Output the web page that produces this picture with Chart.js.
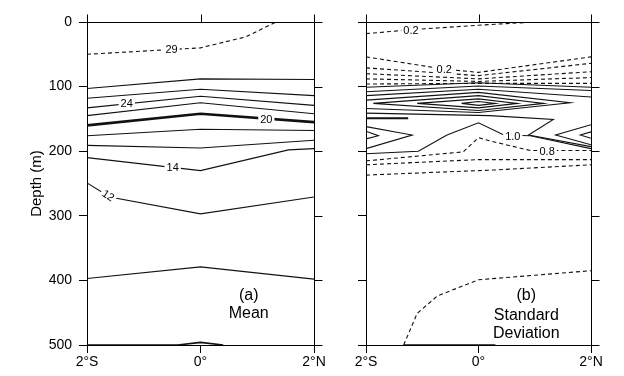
<!DOCTYPE html>
<html>
<head>
<meta charset="utf-8">
<script src="https://cdn.jsdelivr.net/npm/chart.js@4/dist/chart.umd.min.js"></script>
<style>
  html, body { margin: 0; padding: 0; background: #fff; }
  #wrap { position: relative; width: 624px; height: 376px; }
  canvas { position: absolute; top: 0; }
  #mean { left: 0; }
  #std { left: 330px; }
</style>
</head>
<body>
<div id="wrap">
  <canvas id="mean" width="330" height="376"></canvas>
  <canvas id="std" width="294" height="376"></canvas>
</div>
<script>
const lonTicks = [-2, 0, 2];
const lonLabels = ["2°S", "0°", "2°N"];
const depthTicks = [0, 100, 200, 300, 400, 500];

// (a) mean temperature contours, points are [longitude, depth in m]
const mean29 = [[-2, 50], [0, 40], [0.8, 23], [1.33, 0]];
const mean28 = [[-2, 103], [0, 88], [2, 89]];
const mean26 = [[-2, 118], [0, 104], [2, 114]];
const mean24 = [[-2, 133], [0, 115], [2, 129]];
const mean22 = [[-2, 145], [0, 125], [2, 142]];
const mean20 = [[-2, 160], [0, 142], [2, 155]];
const mean18 = [[-2, 176], [0, 166], [2, 168]];
const mean16 = [[-2, 191], [0, 195], [2, 183]];
const mean14 = [[-2, 210], [0, 230], [1.55, 198], [2, 196]];
const mean12 = [[-2, 249], [-1.6, 271], [0, 297], [2, 271]];
const mean10 = [[-2, 397], [0, 379], [2, 398]];
const mean8 = [[-2, 500], [-0.4, 500], [0, 496], [0.4, 500]];

const meanLabelText = ["29", "24", "20", "14", "12"];
const meanLabelLon = [-0.51, -1.3, 1.16, -0.49, -1.62];
const meanLabelDepth = [42, 126, 150, 224, 268];
const meanLabelAngle = [0, 0, 0, 0, 33];

// (b) standard deviation contours
const std02a = [[-2, 18], [-1.2, 12], [0, 5], [1.0, 0]];
const std02b = [[-2, 54], [-0.6, 73], [0, 78], [2, 54]];
const std04 = [[-2, 71], [0, 83], [2, 64]];
const std06 = [[-2, 80], [0, 88], [2, 77]];
const std08a = [[-2, 88], [0, 92], [2, 86]];
const std09 = [[-2, 96], [0, 95], [2, 95]];
const std12 = [[-2, 101], [0, 94], [2, 101]];
const std14 = [[-2, 108], [0, 99], [2, 106]];
const std16 = [[-2, 114], [0, 104], [2, 116]];
const std18 = [[-2, 121], [0, 109], [1.63, 125], [0, 140], [-2, 134]];
const std20 = [[-1.87, 126], [0, 114], [1.16, 126], [0, 137], [-1.87, 126]];
const std22 = [[-1.09, 126], [0, 119], [0.69, 126], [0, 133], [-1.09, 126]];
const std24 = [[-0.3, 126], [0, 123], [0.3, 126], [0, 129], [-0.3, 126]];
const std11 = [[-2, 141], [0.2, 145], [1.33, 151], [0.89, 175], [2, 193]];
const std13 = [[-2, 149], [-1.25, 149]];
const std10 = [[-2, 204], [-1.07, 200], [-0.56, 175], [0, 156], [0.45, 175], [0.92, 176], [2, 196]];
const std12w = [[-2, 162], [-1.18, 175], [-2, 196]];
const std14w = [[-2, 169], [-1.78, 176], [-2, 181]];
const std12e = [[2, 159], [1.37, 175], [2, 190]];
const std14e = [[2, 170], [1.81, 175], [2, 180]];
const std08b = [[-2, 215], [-0.27, 201], [0, 179], [0.2, 184], [0.92, 199], [2, 199]];
const std06b = [[-2, 221], [0, 213], [2, 213]];
const std04b = [[-2, 237], [0, 230], [0.3, 229], [2, 221]];
const std02c = [[-1.33, 500], [-1.09, 451], [-0.73, 424], [0, 399], [2, 385]];
const std02d = [[-1.33, 500], [0.3, 500]];

const stdLabelText = ["0.2", "0.2", "1.0", "0.8"];
const stdLabelLon = [-1.2, -0.61, 0.61, 1.22];
const stdLabelDepth = [12, 73, 176, 200];
const stdLabelAngle = [0, 0, 0, 0];

const FONT = '"Liberation Sans", Arial, sans-serif';

function frame() {
  return {
    id: "frame",
    afterDraw(chart) {
      const { ctx, chartArea: a, scales: { x, y } } = chart;
      const top = Math.round(a.top) + 0.5, right = Math.round(a.right) + 0.5;
      ctx.save();
      ctx.strokeStyle = "#000";
      ctx.lineWidth = 1;
      ctx.beginPath();
      ctx.moveTo(a.left, top); ctx.lineTo(right, top); ctx.lineTo(right, a.bottom);
      lonTicks.forEach(v => {
        const px = Math.round(x.getPixelForValue(v)) + 0.5;
        ctx.moveTo(px, top); ctx.lineTo(px, top - 8);
      });
      depthTicks.forEach(v => {
        const py = Math.round(y.getPixelForValue(v)) + 0.5;
        ctx.moveTo(right, py); ctx.lineTo(right + 8, py);
      });
      ctx.stroke();
      ctx.restore();
    }
  };
}

function labels(texts, lons, depths, angles, notes) {
  return {
    id: "labels",
    afterDatasetsDraw(chart) {
      const { ctx, scales: { x, y } } = chart;
      ctx.save();
      ctx.font = "11px " + FONT;
      ctx.textAlign = "center";
      ctx.textBaseline = "middle";
      texts.forEach((t, i) => {
        ctx.save();
        ctx.translate(x.getPixelForValue(lons[i]), y.getPixelForValue(depths[i]));
        ctx.rotate(angles[i] * Math.PI / 180);
        const w = ctx.measureText(t).width + 4;
        ctx.fillStyle = "#fff";
        ctx.fillRect(-w / 2, -6, w, 12);
        ctx.fillStyle = "#000";
        ctx.fillText(t, 0, 1);
        ctx.restore();
      });
      ctx.font = "16px " + FONT;
      notes.forEach(([t, lon, d]) => {
        ctx.fillText(t, x.getPixelForValue(lon), y.getPixelForValue(d));
      });
      ctx.restore();
    }
  };
}

function set(pts, dash, w) {
  return {
    data: pts.map(([lon, d]) => ({ x: lon, y: d })),
    borderColor: "#111",
    borderWidth: w || 1.1,
    borderDash: dash ? [4, 3] : [],
    pointRadius: 0,
    tension: 0,
    fill: false
  };
}

function makeChart(id, datasets, o) {
  return new Chart(document.getElementById(id), {
    type: "line",
    data: { datasets },
    options: {
      responsive: false,
      animation: false,
      devicePixelRatio: 1,
      layout: { padding: o.pad },
      plugins: { legend: { display: false }, tooltip: { enabled: false } },
      scales: {
        x: {
          type: "linear", min: -2, max: 2,
          afterBuildTicks: s => { s.ticks = lonTicks.map(v => ({ value: v })); },
          ticks: { callback: (v, i) => lonLabels[i], maxRotation: 0, padding: 1, color: "#000", font: { size: 14, family: FONT } },
          grid: { drawOnChartArea: false, tickLength: 8, color: "#000" },
          border: { color: "#000" },
          afterFit: s => { s.height = 31; }
        },
        y: {
          type: "linear", reverse: true, min: 0, max: 500,
          afterBuildTicks: s => { s.ticks = depthTicks.map(v => ({ value: v })); },
          ticks: { display: o.yLabels, padding: 7, color: "#000", font: { size: 14, family: FONT } },
          title: { display: o.yLabels, text: "Depth (m)", color: "#000", font: { size: 15, family: FONT }, padding: { top: 28, bottom: 0 } },
          grid: { drawOnChartArea: false, tickLength: 8, color: "#000" },
          border: { color: "#000" },
          afterFit: s => { s.width = o.yWidth; }
        }
      }
    },
    plugins: [frame(), labels(o.texts, o.lons, o.depths, o.angles, o.notes)]
  });
}

makeChart("mean", [
  set(mean29, true),
  set(mean28), set(mean26), set(mean24), set(mean22),
  set(mean20, false, 2.6),
  set(mean18), set(mean16), set(mean14), set(mean12), set(mean10),
  set(mean8, false, 1.6)
], {
  pad: { left: 0, right: 16, top: 22, bottom: 0 },
  yWidth: 87, yLabels: true,
  texts: meanLabelText, lons: meanLabelLon, depths: meanLabelDepth, angles: meanLabelAngle,
  notes: [["(a)", 0.85, 423], ["Mean", 0.85, 452]]
});

makeChart("std", [
  set(std02a, true), set(std02b, true), set(std04, true), set(std06, true), set(std08a, true), set(std09, true),
  set(std12), set(std14), set(std16), set(std18), set(std20), set(std22), set(std24),
  set(std11), set(std13, false, 2.2), set(std10),
  set(std12w), set(std14w), set(std12e), set(std14e),
  set(std08b, true), set(std06b, true), set(std04b, true), set(std02c, true),
  set(std02d, false, 1.6)
], {
  pad: { left: 28, right: 33, top: 22, bottom: 0 },
  yWidth: 8, yLabels: false,
  texts: stdLabelText, lons: stdLabelLon, depths: stdLabelDepth, angles: stdLabelAngle,
  notes: [["(b)", 0.85, 424], ["Standard", 0.85, 455], ["Deviation", 0.85, 483]]
});
</script>
</body>
</html>
